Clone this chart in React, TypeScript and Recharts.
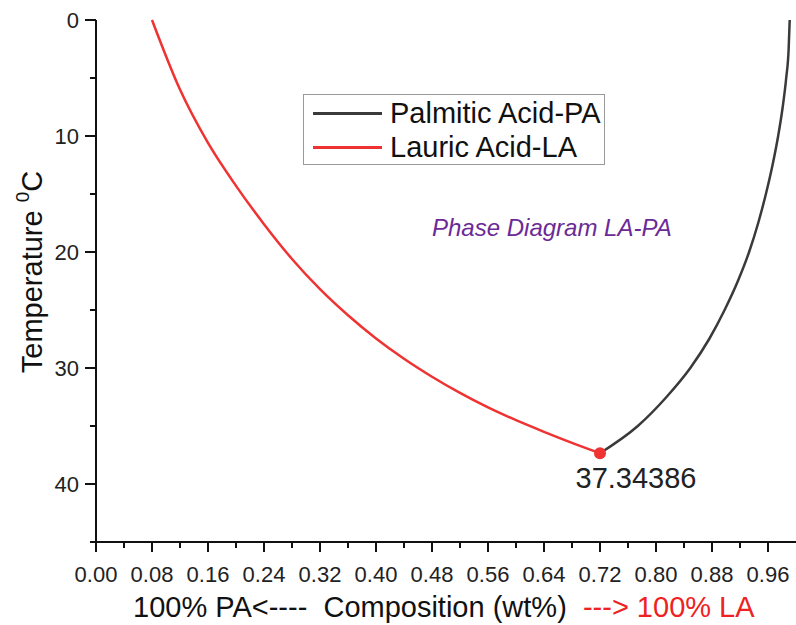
import React from 'react';
import { LineChart, Line, XAxis, YAxis, ReferenceDot } from 'recharts';

// Lauric acid liquidus (red)
const lauricX = [0.08, 0.12, 0.16, 0.2, 0.24, 0.28, 0.32, 0.36, 0.4, 0.44, 0.48, 0.52, 0.56, 0.6, 0.64, 0.68, 0.72];
const lauricT = [0, 6.0, 10.6, 14.3, 17.6, 20.6, 23.2, 25.45, 27.45, 29.2, 30.75, 32.15, 33.4, 34.5, 35.5, 36.45, 37.34386];

// Palmitic acid liquidus (black)
const palmiticX = [0.72, 0.774, 0.815, 0.849, 0.876, 0.898, 0.917, 0.933, 0.946, 0.957, 0.9665, 0.9745, 0.981, 0.986, 0.9895, 0.991];
const palmiticT = [37.34386, 35, 32.5, 30, 27.5, 25, 22.5, 20, 17.5, 15, 12.5, 10, 7.5, 5, 2.5, 0];

const eutectic = { x: 0.72, T: 37.34386 };

const xTicks = [0, 0.04, 0.08, 0.12, 0.16, 0.2, 0.24, 0.28, 0.32, 0.36, 0.4, 0.44, 0.48, 0.52, 0.56, 0.6, 0.64, 0.68, 0.72, 0.76, 0.8, 0.84, 0.88, 0.92, 0.96];
const yTicks = [0, 5, 10, 15, 20, 25, 30, 35, 40, 45];

const seriesNames = ['Palmitic Acid-PA', 'Lauric Acid-LA'];
const seriesColors = ['#3a3a3a', '#ef3333'];

const lauric = lauricX.map((x, i) => ({ x, T: lauricT[i] }));
const palmitic = palmiticX.map((x, i) => ({ x, T: palmiticT[i] }));

const FONT = '"Liberation Sans", Arial, sans-serif';

const XTick = (props: any) => {
  const { x, y, index, payload } = props;
  const major = index % 2 === 0;
  return (
    <g>
      <line x1={x} y1={y} x2={x} y2={y + (major ? 10 : 6)} stroke="#111" strokeWidth={2} />
      {major && (
        <text x={x} y={y + 40} textAnchor="middle" fontSize={22} fontFamily={FONT} fill="#222">
          {Number(payload.value).toFixed(2)}
        </text>
      )}
    </g>
  );
};

const YTick = (props: any) => {
  const { x, y, payload } = props;
  const major = payload.value % 10 === 0;
  return (
    <g>
      <line x1={x - (major ? 11 : 6)} y1={y} x2={x} y2={y} stroke="#111" strokeWidth={2} />
      {major && (
        <text x={x - 17} y={y + 8} textAnchor="end" fontSize={22} fontFamily={FONT} fill="#222">
          {payload.value}
        </text>
      )}
    </g>
  );
};

const DotLabel = (props: any) => {
  const { viewBox } = props;
  const cx = viewBox.x + viewBox.width / 2;
  const cy = viewBox.y + viewBox.height / 2;
  return (
    <text x={cx + 36} y={cy + 35} textAnchor="middle" fontSize={29} fontFamily={FONT} fill="#222">
      {String(eutectic.T)}
    </text>
  );
};

export default function App() {
  return (
    <div style={{ position: 'absolute', left: 0, top: 0, width: 796, height: 625, background: '#fff' }}>
      <LineChart width={796} height={625} margin={{ top: 20, right: 0, left: 36, bottom: 53 }}>
        <XAxis
          type="number"
          dataKey="x"
          domain={[0, 1]}
          ticks={xTicks}
          interval={0}
          tick={<XTick />}
          tickLine={false}
          tickSize={0}
          tickMargin={0}
          axisLine={{ stroke: '#111', strokeWidth: 2 }}
          height={30}
        />
        <YAxis
          type="number"
          dataKey="T"
          domain={[0, 45]}
          reversed
          ticks={yTicks}
          interval={0}
          tick={<YTick />}
          tickLine={false}
          tickSize={0}
          tickMargin={0}
          axisLine={{ stroke: '#111', strokeWidth: 2 }}
          width={60}
        />
        <Line data={lauric} dataKey="T" type="monotone" stroke={seriesColors[1]} strokeWidth={2.5} dot={false} isAnimationActive={false} />
        <Line data={palmitic} dataKey="T" type="monotone" stroke={seriesColors[0]} strokeWidth={2.5} dot={false} isAnimationActive={false} />
        <ReferenceDot x={eutectic.x} y={eutectic.T} r={6} fill={seriesColors[1]} stroke="none" label={<DotLabel />} />
      </LineChart>

      <svg width={796} height={625} style={{ position: 'absolute', left: 0, top: 0, pointerEvents: 'none' }}>
        <text
          x={32}
          y={272}
          transform="rotate(-90, 32, 272)"
          textAnchor="middle"
          dominantBaseline="central"
          fontSize={29}
          fontFamily={FONT}
          fill="#111"
        >
          Temperature <tspan dy={-10} fontSize={19}>0</tspan><tspan dy={10}>C</tspan>
        </text>
        <text x={133} y={617} fontSize={29} fontFamily={FONT} fill="#111" xmlSpace="preserve">
          {'100% PA<----  Composition (wt%)  '}
          <tspan fill="#ee2222">{'---> 100% LA'}</tspan>
        </text>
        <text x={432} y={236} fontSize={24} fontStyle="italic" fontFamily={FONT} fill="#6b2a96">
          Phase Diagram LA-PA
        </text>
      </svg>

      <div
        style={{
          position: 'absolute',
          left: 303,
          top: 94,
          width: 302,
          height: 71,
          border: '1.5px solid #999',
          boxSizing: 'border-box',
          fontFamily: FONT,
          fontSize: 29,
          color: '#111',
        }}
      >
        {seriesNames.map((name, i) => (
          <div key={name} style={{ display: 'flex', alignItems: 'center', height: 34, marginTop: i === 0 ? 1 : 0 }}>
            <div style={{ width: 69, height: 3, background: seriesColors[i], marginLeft: 9, marginRight: 8 }} />
            <span style={{ whiteSpace: 'nowrap' }}>{name}</span>
          </div>
        ))}
      </div>
    </div>
  );
}
